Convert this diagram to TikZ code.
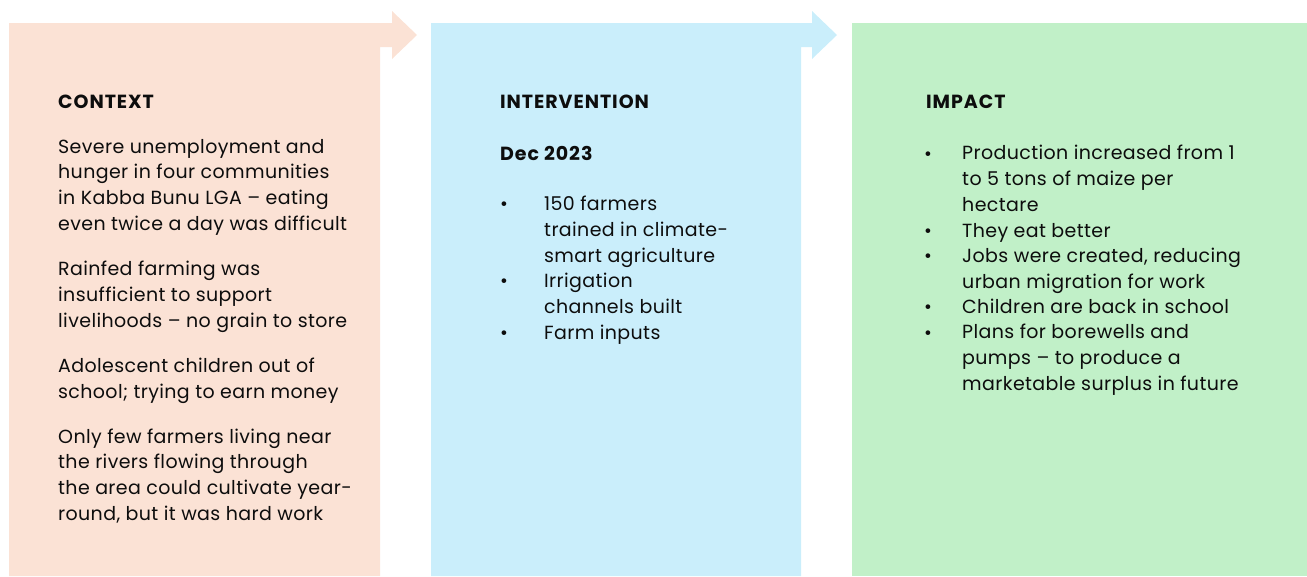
\documentclass[tikz,border=0pt]{standalone}
\usepackage{fontspec}
\setmainfont{Poppins}
\newfontfamily\bodyfont{Poppins}[LetterSpace=2]
\newfontfamily\headfont{Poppins}[LetterSpace=5]
\usetikzlibrary{positioning}

\definecolor{ctxfill}{HTML}{FBE2D5}
\definecolor{intfill}{HTML}{CAEEFB}
\definecolor{impfill}{HTML}{C1F0C8}
\definecolor{inktext}{HTML}{0D0D0D}

\begin{document}
\begin{tikzpicture}[
    x=1pt, y=-1pt,
    txt/.style={anchor=base west, align=left, inner sep=0pt, text=inktext, font=\bodyfont\fontsize{19}{25.6}\selectfont},
    head/.style={txt, font=\headfont\fontsize{19}{25.6}\selectfont\bfseries},
    dot/.style={txt}
]
\useasboundingbox (0,0) rectangle (1307,576);

% panels
\fill[ctxfill] (9,23) -- (392,23) -- (392,11) -- (417,35) -- (392,59) -- (392,47) -- (380,47) -- (380,576) -- (9,576) -- cycle;
\fill[intfill] (431,23) -- (812,23) -- (812,11) -- (837,35) -- (812,59) -- (812,47) -- (801,47) -- (801,576) -- (431,576) -- cycle;
\fill[impfill] (852,23) rectangle (1307,576);

% context (base = last line)
\node[head] (ctxhead) at (58,108) {CONTEXT};
\node[txt] (ctx1) at (58,230) {Severe unemployment and\\hunger in four communities\\in Kabba Bunu LGA – eating\\even twice a day was difficult};
\node[txt] (ctx2) at (58,327) {Rainfed farming was\\insufficient to support\\livelihoods – no grain to store};
\node[txt] (ctx3) at (58,398) {Adolescent children out of\\school; trying to earn money};
\node[txt] (ctx4) at (58,520) {Only few farmers living near\\the rivers flowing through\\the area could cultivate year-\\round, but it was hard work};

% intervention
\node[head] (inthead) at (500,108) {INTERVENTION};
\node[head] (intdate) at (500,160) {Dec 2023};
\node[txt] (int1) at (544,262) {150 farmers\\trained in climate-\\smart agriculture};
\node[txt] (int2) at (544,313) {Irrigation\\channels built};
\node[txt] (int3) at (544,339) {Farm inputs};
\node[dot] at (500,210) {•};
\node[dot] at (500,287) {•};
\node[dot] at (500,339) {•};

% impact
\node[head] (imphead) at (926,108) {IMPACT};
\node[txt] (imp1) at (962,211) {Production increased from 1\\to 5 tons of maize per\\hectare};
\node[txt] (imp2) at (962,237) {They eat better};
\node[txt] (imp3) at (962,288) {Jobs were created, reducing\\urban migration for work};
\node[txt] (imp4) at (962,313) {Children are back in school};
\node[txt] (imp5) at (962,390) {Plans for borewells and\\pumps – to produce a\\marketable surplus in future};
\node[dot] at (924,160) {•};
\node[dot] at (924,237) {•};
\node[dot] at (924,262) {•};
\node[dot] at (924,313) {•};
\node[dot] at (924,339) {•};
\end{tikzpicture}
\end{document}
